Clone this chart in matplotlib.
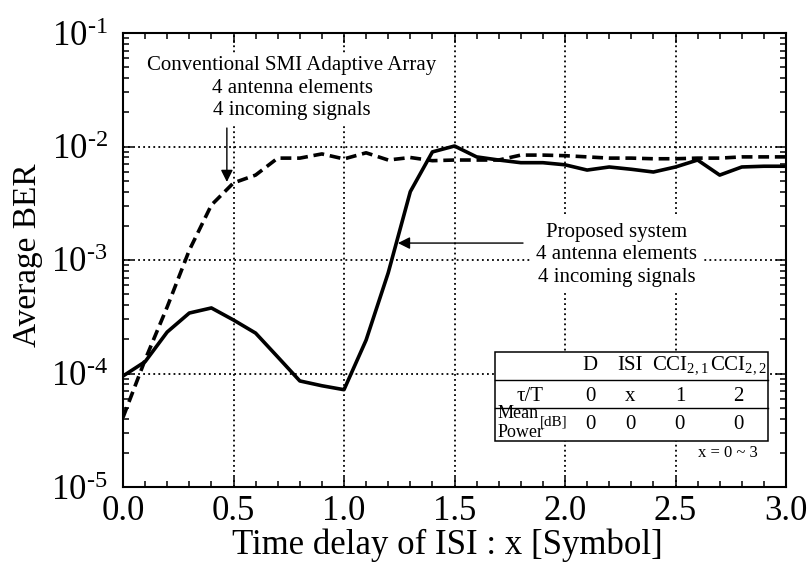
import numpy as np
import matplotlib
matplotlib.use("Agg")
import matplotlib.pyplot as plt
from matplotlib.patches import Rectangle
from matplotlib.ticker import MultipleLocator, LogLocator, FuncFormatter, NullFormatter

plt.rcParams['font.family'] = ['Liberation Serif', 'DejaVu Serif']
plt.rcParams['mathtext.fontset'] = 'custom'
plt.rcParams['mathtext.rm'] = 'Liberation Serif'
plt.rcParams['mathtext.it'] = 'Liberation Serif:italic'

# ISI delay in symbols
delay = np.round(np.arange(0, 3.01, 0.1), 1)

# proposed system (solid)
ber_proposed = [9.5e-5, 1.27e-4, 2.32e-4, 3.41e-4, 3.78e-4, 2.96e-4, 2.27e-4, 1.40e-4,
                8.6e-5, 7.8e-5, 7.2e-5, 1.97e-4, 7.7e-4, 4.0e-3, 8.96e-3, 1.01e-2,
                8.1e-3, 7.6e-3, 7.2e-3, 7.2e-3, 6.9e-3, 6.2e-3, 6.6e-3, 6.3e-3,
                5.96e-3, 6.6e-3, 7.6e-3, 5.6e-3, 6.6e-3, 6.7e-3, 6.7e-3]

# conventional SMI adaptive array (dashed)
ber_smi = [4.1e-5, 1.32e-4, 3.86e-4, 1.22e-3, 3.05e-3, 4.78e-3, 5.6e-3, 7.9e-3,
           7.9e-3, 8.6e-3, 7.77e-3, 8.8e-3, 7.6e-3, 8.0e-3, 7.5e-3, 7.6e-3,
           7.6e-3, 7.6e-3, 8.4e-3, 8.4e-3, 8.3e-3, 8.1e-3, 7.9e-3, 7.9e-3,
           7.8e-3, 7.8e-3, 7.9e-3, 7.9e-3, 8.1e-3, 8.1e-3, 8.1e-3]

# signal condition table
sig_names = ['D', 'ISI', 'CCI$_{2,1}$', 'CCI$_{2,2}$']
sig_delay = ['0', 'x', '1', '2']
sig_power = ['0', '0', '0', '0']

fig = plt.figure(figsize=(8.1, 5.65), dpi=100)
ax = fig.add_axes([123/810, 1-487/565, 663/810, 454/565])

ax.plot(delay, ber_smi, color='k', lw=2.6, dashes=(3, 1.6), zorder=4)
ax.plot(delay, ber_proposed, color='k', lw=2.6, zorder=4)

ax.set_yscale('log')
ax.set_xlim(0, 3.0)
ax.set_ylim(1e-5, 1e-1)
ax.xaxis.set_major_locator(MultipleLocator(0.5))
ax.xaxis.set_minor_locator(MultipleLocator(0.1))
ax.xaxis.set_major_formatter(matplotlib.ticker.FormatStrFormatter('%.1f'))
ax.yaxis.set_major_locator(LogLocator(base=10, numticks=10))
ax.yaxis.set_minor_locator(LogLocator(base=10, subs=np.arange(2, 10), numticks=10))
ax.yaxis.set_major_formatter(FuncFormatter(
    lambda v, p: '10$^{\u2010%d}$' % round(-np.log10(v))))
ax.yaxis.set_minor_formatter(NullFormatter())

ax.tick_params(which='both', direction='in', top=True, right=True, width=1.1)
ax.tick_params(which='major', length=7)
ax.tick_params(which='minor', length=4)
ax.tick_params(axis='x', which='major', pad=6, labelsize=25)
ax.tick_params(axis='y', which='major', pad=11, labelsize=25)
for s in ax.spines.values():
    s.set_linewidth(1.5)

ax.set_axisbelow(True)
ax.grid(True, which='major', color='k', lw=1.3, ls=(0, (1, 1.8)))

ax.set_xlabel('Time delay of ISI : x [Symbol]', fontsize=25, labelpad=0)
ax.xaxis.label.set_x(0.489)
ax.set_ylabel('Average BER', fontsize=24, va='center')
ax.yaxis.set_label_coords(-0.143, 0.511)

# annotations
ax.annotate('', xy=(0.47, 4.87e-3), xytext=(0.47, 1.455e-2),
            arrowprops=dict(arrowstyle='-|>', color='k', lw=1, mutation_scale=18,
                            shrinkA=0, shrinkB=0), zorder=5)
ax.text(0.765, 3.27e-2, 'Conventional SMI Adaptive Array\n4 antenna elements\n4 incoming signals',
        ha='center', va='center', fontsize=15, linespacing=1.25, zorder=3,
        bbox=dict(fc='white', ec='none', pad=2))

ax.annotate('', xy=(1.244, 1.41e-3), xytext=(1.81, 1.41e-3),
            arrowprops=dict(arrowstyle='-|>', color='k', lw=1, mutation_scale=18,
                            shrinkA=0, shrinkB=0), zorder=5)
ax.text(2.235, 1.107e-3, 'Proposed system\n4 antenna elements\n4 incoming signals',
        ha='center', va='center', fontsize=15, linespacing=1.25, zorder=3,
        bbox=dict(fc='white', ec='none', pad=4))

# condition table in axes fraction
tr = ax.transAxes
ax.add_patch(Rectangle((0.561, 0.101), 0.412, 0.196, transform=tr,
                       fc='white', ec='k', lw=1.1, zorder=3))
for yl in (0.236, 0.174):
    ax.plot([0.561, 0.973], [yl, yl], transform=tr, color='k', lw=1.0, zorder=3.5)

col_x = [0.7044, 0.7647, 0.840, 0.9276]
for cx, name, d, p in zip(col_x, sig_names, sig_delay, sig_power):
    ax.text(cx, 0.2687, name, transform=tr, ha='center', va='center', fontsize=15, zorder=4)
    ax.text(cx, 0.2004, d, transform=tr, ha='center', va='center', fontsize=15, zorder=4)
    ax.text(cx, 0.1366, p, transform=tr, ha='center', va='center', fontsize=15, zorder=4)
ax.text(0.6139, 0.2004, 'τ/T', transform=tr, ha='center', va='center', fontsize=15, zorder=4)
ax.text(0.5656, 0.1608, 'Mean', transform=tr, ha='left', va='center', fontsize=13, zorder=4)
ax.text(0.5656, 0.121, 'Power', transform=tr, ha='left', va='center', fontsize=13, zorder=4)
ax.text(0.629, 0.143, '[dB]', transform=tr, ha='left', va='center', fontsize=11, zorder=4)
ax.text(0.958, 0.075, 'x = 0 ~ 3', transform=tr, ha='right', va='center', fontsize=12, zorder=4)

fig.savefig('out.png', dpi=100)
